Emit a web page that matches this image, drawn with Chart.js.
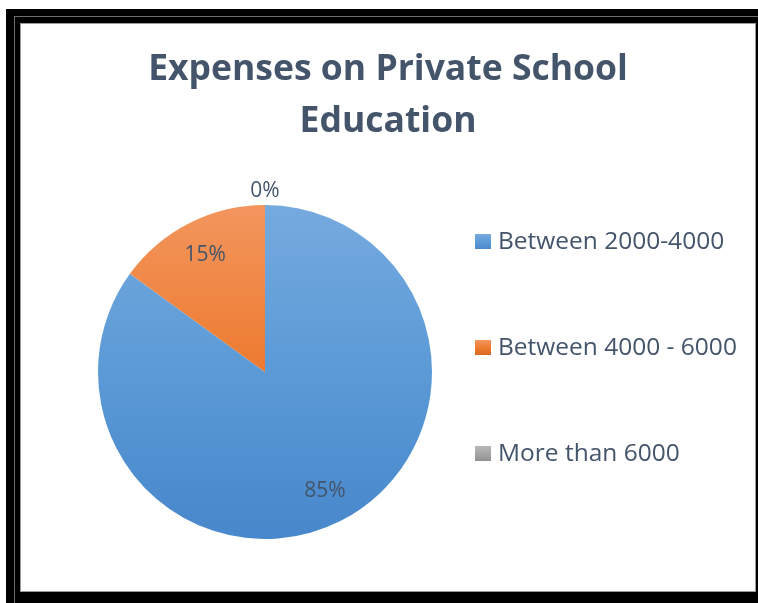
<!DOCTYPE html>
<html>
<head>
<meta charset="utf-8">
<script src="https://cdn.jsdelivr.net/npm/chart.js@4.4.1/dist/chart.umd.min.js"></script>
<style>
  html, body { margin: 0; padding: 0; background: #fff; width: 758px; height: 603px; overflow: hidden; }
  .frame { position: absolute; left: 6px; top: 9px; width: 900px; height: 900px; background: #000; }
  .frame-line { position: absolute; left: 14px; top: 16px; width: 900px; height: 900px;
                border-left: 1px solid #6e6e6e; border-top: 1px solid #6e6e6e; }
  .panel { position: absolute; left: 20px; top: 23px; width: 734px; height: 567px;
           border: 1px solid #9a9a9a; background: #fff; }
  .panel canvas { position: absolute; left: 0; top: 0; }
</style>
</head>
<body>
<div class="frame"></div>
<div class="frame-line"></div>
<div class="panel"><canvas id="chart" width="734" height="567"></canvas></div>
<script>
// Monthly spending bands on private schooling and the share of families in each
const titleLines = ['Expenses on Private School', 'Education'];
const categories = ['Between 2000-4000', 'Between 4000 - 6000', 'More than 6000'];
const shares = [85, 15, 0];

// Slice shading: light at the top of the pie, deeper toward the bottom
const sliceStops = [
  [[0, '#75AADF'], [0.5, '#5B9AD6'], [1, '#4787CB']],
  [[0, '#F3965E'], [0.5, '#ED7A2F'], [1, '#D9661E']],
  [[0, '#B8B8B8'], [0.5, '#A5A5A5'], [1, '#8E8E8E']]
];
const textColor = '#44546A';
const legendFont = '24.5px "Open Sans", Lato, sans-serif';
const valueFont = '21px "Open Sans", Lato, sans-serif';

function sliceFill(context) {
  const chart = context.chart;
  const area = chart.chartArea;
  const stops = sliceStops[context.dataIndex % sliceStops.length];
  if (!area) return stops[1][1];
  const g = chart.ctx.createLinearGradient(0, area.top, 0, area.bottom);
  stops.forEach(([p, c]) => g.addColorStop(p, c));
  return g;
}

// Legend column on the right, laid out as a regular Chart.js layout box
const sideLegend = {
  id: 'sideLegend',
  beforeInit(chart) {
    const box = {
      position: 'right',
      weight: 0,
      fullSize: false,
      options: { display: true },
      isHorizontal() { return false; },
      getPadding() { return { top: 0, left: 0, right: 0, bottom: 0 }; },
      update(maxWidth, maxHeight) {
        this.width = 246;
        this.height = maxHeight;
        return this;
      },
      draw() {
        const ctx = chart.ctx;
        const labels = chart.data.labels;
        const n = labels.length;
        const spacing = 106;
        const midY = this.top + this.height / 2 - 24;
        const x = this.left - 34;
        ctx.save();
        ctx.font = legendFont;
        ctx.textBaseline = 'middle';
        ctx.textAlign = 'left';
        labels.forEach((name, i) => {
          const y = midY + (i - (n - 1) / 2) * spacing;
          const stops = sliceStops[i % sliceStops.length];
          const g = ctx.createLinearGradient(0, y - 8, 0, y + 8);
          stops.forEach(([p, c]) => g.addColorStop(p, c));
          ctx.fillStyle = g;
          ctx.fillRect(x, y - 8, 16, 15);
          ctx.fillStyle = textColor;
          ctx.fillText(name, x + 23, y);
        });
        ctx.restore();
      }
    };
    Chart.layouts.addBox(chart, box);
  }
};

// Percentage labels: inside each slice, or just outside the rim for empty ones
const sliceLabels = {
  id: 'sliceLabels',
  afterDatasetsDraw(chart) {
    const ctx = chart.ctx;
    const values = chart.data.datasets[0].data;
    const total = values.reduce((a, b) => a + b, 0);
    const meta = chart.getDatasetMeta(0);
    ctx.save();
    ctx.font = valueFont;
    ctx.fillStyle = textColor;
    ctx.textAlign = 'center';
    ctx.textBaseline = 'middle';
    meta.data.forEach((arc, i) => {
      const p = arc.getProps(['x', 'y', 'startAngle', 'endAngle', 'outerRadius'], true);
      const mid = (p.startAngle + p.endAngle) / 2;
      const v = values[i];
      const r = v > 0 ? p.outerRadius * 0.79 : p.outerRadius + 15;
      const pct = Math.round(v / total * 100) + '%';
      ctx.fillText(pct, p.x + Math.cos(mid) * r, p.y + Math.sin(mid) * r + 1);
    });
    ctx.restore();
  }
};

new Chart(document.getElementById('chart'), {
  type: 'pie',
  data: {
    labels: categories,
    datasets: [{
      data: shares,
      backgroundColor: sliceFill,
      borderWidth: 0
    }]
  },
  options: {
    responsive: false,
    animation: false,
    layout: { padding: { top: 0, left: 0, right: 0, bottom: 52 } },
    plugins: {
      legend: { display: false },
      tooltip: { enabled: false },
      title: {
        display: true,
        text: titleLines,
        color: textColor,
        font: { family: '"Open Sans", Lato, sans-serif', size: 35.5, weight: 'bold', lineHeight: 1.465 },
        padding: { top: 20, bottom: 57 }
      }
    }
  },
  plugins: [sideLegend, sliceLabels]
});
</script>
</body>
</html>
